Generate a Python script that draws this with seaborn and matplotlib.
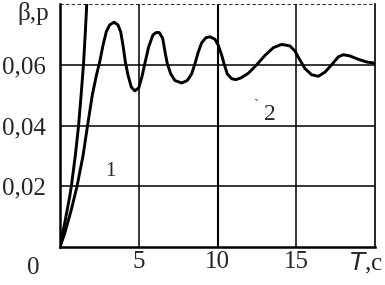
import numpy as np
import pandas as pd
import matplotlib
matplotlib.use('Agg')
import matplotlib.pyplot as plt
import seaborn as sns

# curve 1
t1 = [0, 0.3, 0.62, 0.72, 0.97, 1.18, 1.34, 1.49, 1.6, 1.7, 1.75]
y1 = [0, 0.0079, 0.0167, 0.020, 0.030, 0.040, 0.050, 0.060, 0.070, 0.080, 0.086]

# curve 2
t2 = [0, 0.3, 0.72, 1.08, 1.46, 1.75, 2.05, 2.31, 2.52, 2.73, 2.94, 3.15, 3.43,
      3.68, 3.85, 4.0, 4.15, 4.32, 4.53, 4.75, 5.0, 5.2, 5.4, 5.63, 5.9, 6.1, 6.3,
      6.52, 6.67, 6.81, 7.03, 7.3, 7.72, 8.08, 8.36, 8.57, 8.78, 9.0, 9.27, 9.52,
      9.84, 10.05, 10.27, 10.41, 10.62, 10.9, 11.17, 11.5, 11.96, 12.49, 13.02,
      13.54, 14.07, 14.6, 14.92, 15.24, 15.56, 15.98, 16.4, 16.83, 17.25, 17.67,
      17.99, 18.41, 18.94, 19.47, 19.9]
y2 = [0, 0.0045, 0.0123, 0.020, 0.030, 0.040, 0.050, 0.0565, 0.0609, 0.0664,
      0.0709, 0.0731, 0.0740, 0.0731, 0.0709, 0.0664, 0.0609, 0.0565, 0.0526,
      0.0514, 0.0524, 0.0560, 0.0607, 0.0659, 0.0698, 0.0706, 0.0706, 0.0687,
      0.0642, 0.0604, 0.0570, 0.0548, 0.0540, 0.0548, 0.0570, 0.0604, 0.0642,
      0.0673, 0.0689, 0.0692, 0.0684, 0.0664, 0.0631, 0.0604, 0.0570, 0.0554,
      0.0551, 0.0557, 0.0572, 0.0600, 0.0631, 0.0656, 0.0667, 0.0662, 0.0645,
      0.0615, 0.0587, 0.0567, 0.0562, 0.0576, 0.0600, 0.0626, 0.0633, 0.0629,
      0.0618, 0.0609, 0.0606]

xticks = [5, 10, 15]
xlabels = ['5', '10', '15']
yticks = [0.02, 0.04, 0.06]
ylabels = ['0,02', '0,04', '0,06']

sns.set_style('white')
plt.rcParams['font.family'] = ['Liberation Serif', 'DejaVu Serif']

df = pd.concat([
    pd.DataFrame({'T': t1, 'v': y1, 'c': '1'}),
    pd.DataFrame({'T': t2, 'v': y2, 'c': '2'}),
])

fig = plt.figure(figsize=(3.85, 2.85), dpi=100)
ax = fig.add_axes([60 / 385, 38 / 285, 315 / 385, 243 / 285])

for v in xticks:
    ax.axvline(v, color='black', lw=1.1 if v != 10 else 1.5, zorder=1)
for v in yticks:
    ax.axhline(v, color='black', lw=1.1, zorder=1)

sns.lineplot(data=df, x='T', y='v', units='c', estimator=None, sort=False,
             color='black', lw=2.1, ax=ax, zorder=3)

ax.set_xlim(0, 20)
ax.set_ylim(0, 0.08)
ax.set_xticks(xticks)
ax.set_xticklabels(xlabels, fontsize=18)
ax.set_yticks(yticks)
ax.set_yticklabels(ylabels, fontsize=18)
ax.tick_params(axis='y', length=0, pad=10)
ax.tick_params(axis='x', length=0, pad=3)
ax.set_xlabel('')
ax.set_ylabel('')

for s in ['left', 'bottom']:
    ax.spines[s].set_linewidth(1.8)
ax.spines['right'].set_linewidth(1.2)
ax.spines['top'].set_linewidth(0.6)
ax.spines['top'].set_linestyle((0, (3, 4)))
for s in ax.spines.values():
    s.set_color('black')

ax.text(-0.084, -0.085, '0', transform=ax.transAxes, fontsize=18,
        ha='center', va='center')
ax.text(0.971, -0.068, r'$\it{T}$,c', transform=ax.transAxes, fontsize=18,
        ha='center', va='center')
ax.text(-0.086, 0.962, 'β,p', transform=ax.transAxes, fontsize=18,
        ha='center', va='center')
ax.text(3.17, 0.0249, '1', fontsize=15, ha='center', va='center')
ax.text(13.3, 0.0436, '2', fontsize=17, ha='center', va='center')
ax.text(12.45, 0.0465, '`', fontsize=11, ha='center', va='center')
if ax.get_legend():
    ax.get_legend().remove()

fig.savefig('out.png', dpi=100)
